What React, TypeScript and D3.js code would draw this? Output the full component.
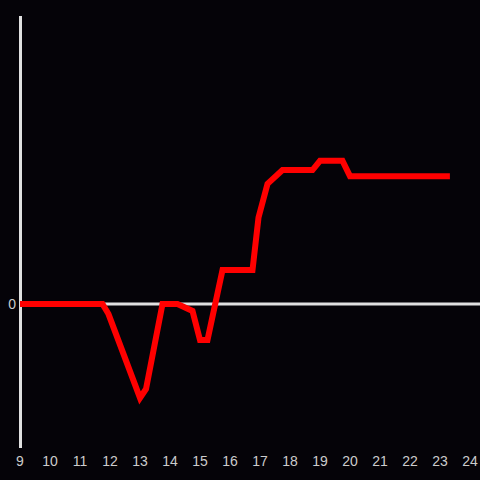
import React from "react";
import * as d3 from "d3";

const hours = [9, 11.75, 11.95, 13, 13.2, 13.75, 14.25, 14.75, 15, 15.25, 15.75, 16.75, 16.95, 17.25, 17.75, 18.75, 19, 19.75, 20, 23.33];
const values = [0, 0, -3.5, -32.6, -29.5, 0, 0, -2.4, -12.5, -12.5, 11.8, 11.8, 30, 41.7, 46.5, 46.5, 49.7, 49.7, 44.4, 44.4];
const xTicks = [9, 10, 11, 12, 13, 14, 15, 16, 17, 18, 19, 20, 21, 22, 23, 24];
const yTicks = [0];

const W = 480;
const H = 480;

export default function App() {
  const x = d3.scaleLinear().domain([9, 24]).range([20, 470]);
  const y = d3.scaleLinear().domain([-50, 100]).range([448, 16]);
  const pts: [number, number][] = hours.map((h, i) => [h, values[i]]);
  const line = d3
    .line<[number, number]>()
    .x((d) => x(d[0]))
    .y((d) => y(d[1]));
  return (
    <div style={{ position: "fixed", left: 0, top: 0, width: W, height: H }}>
      <svg width={W} height={H} style={{ display: "block", background: "#050308" }}>
        <rect x={0} y={0} width={W} height={H} fill="#050308" />
        {yTicks.map((t) => (
          <g key={t}>
            <line x1={x(9)} x2={W} y1={y(t)} y2={y(t)} stroke="#e0e0e0" strokeWidth={3} />
            <text
              x={16}
              y={y(t)}
              dy="0.35em"
              textAnchor="end"
              fill="#cccccc"
              fontFamily="Liberation Sans, Arial, sans-serif"
              fontSize={14}
            >
              {t}
            </text>
          </g>
        ))}
        <line x1={x(9) + 0.5} x2={x(9) + 0.5} y1={16} y2={448} stroke="#e0e0e0" strokeWidth={3} />
        {xTicks.map((t) => (
          <text
            key={t}
            x={x(t)}
            y={461}
            dy="0.35em"
            textAnchor="middle"
            fill="#cccccc"
            fontFamily="Liberation Sans, Arial, sans-serif"
            fontSize={14}
          >
            {t}
          </text>
        ))}
        <path d={line(pts) || ""} fill="none" stroke="#ff0000" strokeWidth={6} strokeLinejoin="miter" />
      </svg>
    </div>
  );
}
